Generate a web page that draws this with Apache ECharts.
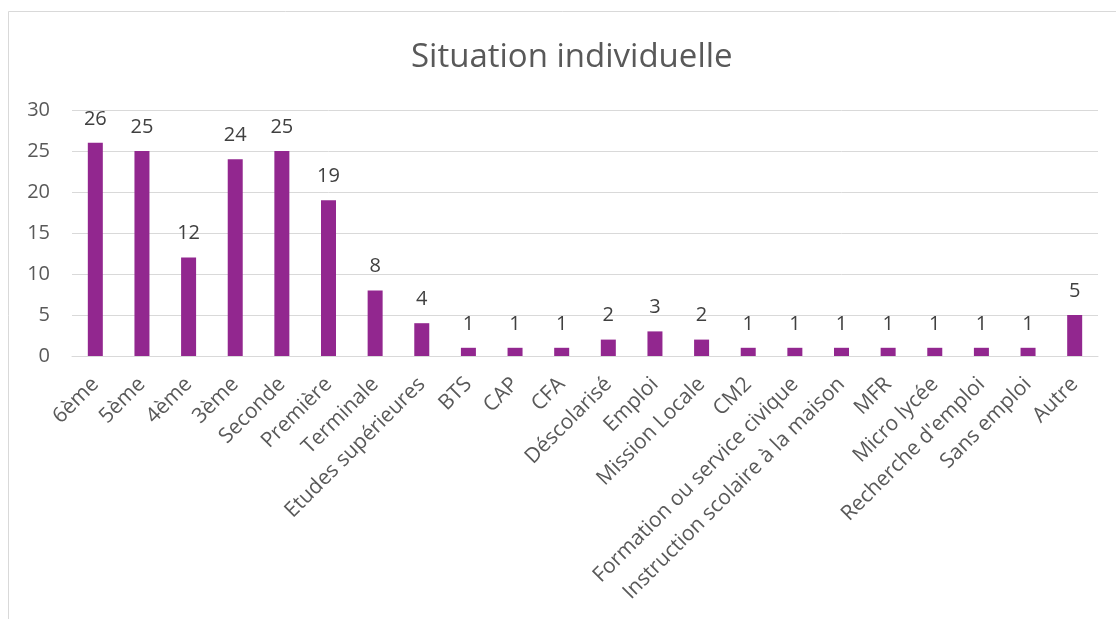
<!DOCTYPE html>
<html><head><meta charset="utf-8">
<script src="https://cdn.jsdelivr.net/npm/echarts@6/dist/echarts.min.js"></script>
<style>html,body{margin:0;padding:0;background:#fff}#c{width:1116px;height:619px}</style>
</head><body><div id="c"></div>
<script>
const title = "Situation individuelle";
const categories = ["6ème","5ème","4ème","3ème","Seconde","Première","Terminale","Etudes supérieures","BTS","CAP","CFA","Déscolarisé","Emploi","Mission Locale","CM2","Formation ou service civique","Instruction scolaire à la maison","MFR","Micro lycée","Recherche d'emploi","Sans emploi","Autre"];
const values = [26,25,12,24,25,19,8,4,1,1,1,2,3,2,1,1,1,1,1,1,1,5];
const yTicks = {min:0, max:30, interval:5};

const font = "'Open Sans', sans-serif";
const chart = echarts.init(document.getElementById('c'), null, {renderer:'canvas'});
chart.setOption({
  animation:false,
  backgroundColor:'#fff',
  graphic:[{type:'rect', shape:{x:8.5,y:11.5,width:1200,height:700}, style:{fill:'none', stroke:'#d9d9d9', lineWidth:1}, silent:true}],
  title:{text:title, left:406, top:36, textStyle:{fontFamily:font, fontSize:33, fontWeight:'normal', color:'#595959'}},
  grid:{left:72, right:18, top:110, bottom:263, containLabel:false},
  xAxis:{type:'category', data:categories,
    axisLine:{show:true, lineStyle:{color:'#d9d9d9', width:1}},
    axisTick:{show:false},
    axisLabel:{rotate:45, interval:0, fontFamily:font, fontSize:21, color:'#595959', margin:25}},
  yAxis:{type:'value', min:yTicks.min, max:yTicks.max, interval:yTicks.interval,
    axisLine:{show:false}, axisTick:{show:false},
    splitLine:{lineStyle:{color:'#d9d9d9', width:1}},
    axisLabel:{fontFamily:font, fontSize:20, color:'#595959', margin:22}},
  series:[{type:'bar', data:values, barWidth:15,
    itemStyle:{color:'#92278F'},
    label:{show:true, position:'top', distance:14, fontFamily:font, fontSize:20, color:'#404040'}}]
});
</script></body></html>
